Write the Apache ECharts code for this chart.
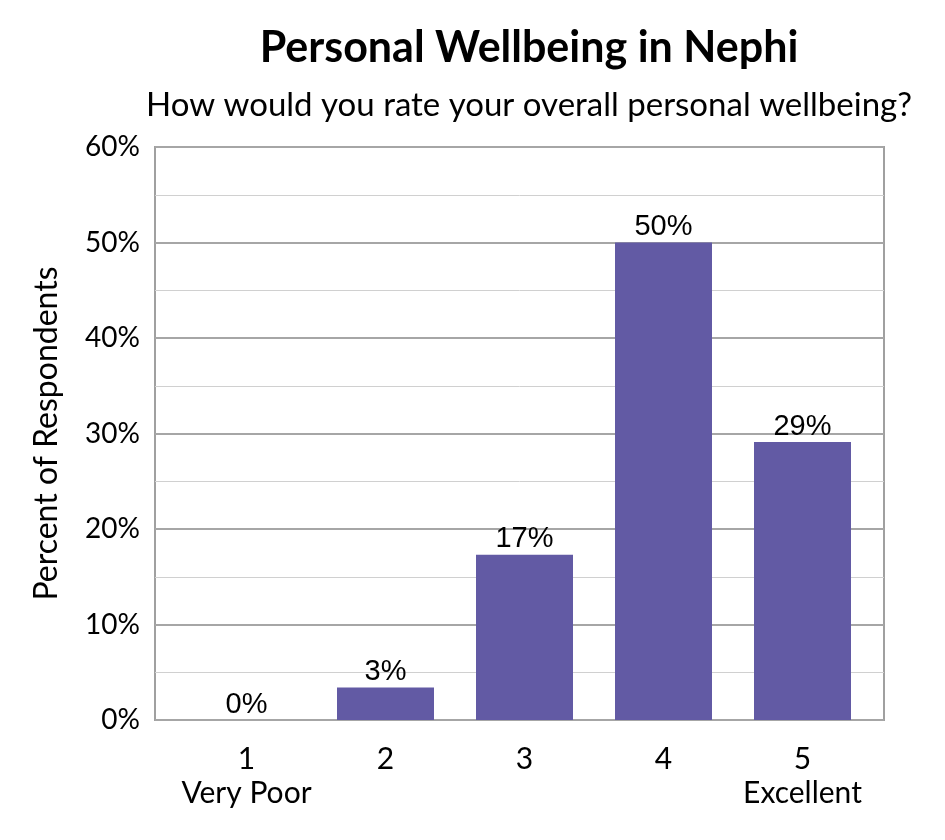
<!DOCTYPE html>
<html>
<head>
<meta charset="utf-8">
<script src="https://cdn.jsdelivr.net/npm/echarts@6/dist/echarts.min.js"></script>
<style>
  html, body { margin: 0; padding: 0; background: #fff; }
  #main { width: 945px; height: 840px; }
</style>
</head>
<body>
<div id="main"></div>
<script type="text/javascript">
  // data
  var categories = ['1\nVery Poor', '2', '3', '4', '5\nExcellent'];
  var percents   = [0, 3.4, 17.3, 50, 29.1];
  var yTicks     = [0, 10, 20, 30, 40, 50, 60];

  var labelFont = 'Lato, "Open Sans", sans-serif';

  var myChart = echarts.init(document.getElementById('main'));

  // grid 0 = the framed plot area with the gridlines,
  // grid 1 = where the bars sit (a bit narrower, like the original)
  var option = {
    backgroundColor: '#fff',
    title: [
      {
        text: 'Personal Wellbeing in Nephi',
        left: 524,
        textAlign: 'center',
        top: 22,
        textStyle: { fontFamily: labelFont, fontWeight: 'bold', fontSize: 43, color: '#000' }
      },
      {
        text: 'How would you rate your overall personal wellbeing?',
        left: 524,
        textAlign: 'center',
        top: 84,
        textStyle: { fontFamily: labelFont, fontWeight: 'normal', fontSize: 33, color: '#000' }
      }
    ],
    grid: [
      {
        left: 155, right: 61, top: 147, bottom: 120,
        show: true,
        borderColor: '#A0A0A0',
        borderWidth: 2
      },
      {
        left: 177, right: 73, top: 147, bottom: 120
      }
    ],
    xAxis: [
      { type: 'category', gridIndex: 0, data: categories, show: false },
      {
        type: 'category',
        gridIndex: 1,
        data: categories,
        axisTick: { show: false },
        axisLine: { show: false },
        axisLabel: {
          interval: 0,
          color: '#000',
          fontFamily: labelFont,
          fontSize: 30,
          lineHeight: 34,
          margin: 22
        }
      }
    ],
    yAxis: [
      {
        type: 'value',
        gridIndex: 0,
        min: yTicks[0],
        max: yTicks[yTicks.length - 1],
        interval: 10,
        name: 'Percent of Respondents',
        nameLocation: 'middle',
        nameGap: 92,
        nameTextStyle: { color: '#000', fontFamily: labelFont, fontSize: 32 },
        axisLine: { show: false },
        axisTick: { show: false },
        axisLabel: {
          color: '#000',
          fontFamily: labelFont,
          fontSize: 28,
          margin: 15,
          formatter: '{value}%'
        },
        splitLine: { lineStyle: { color: '#A6A6A6', width: 2 } },
        minorTick: { show: false, splitNumber: 2 },
        minorSplitLine: { show: true, lineStyle: { color: '#D0D0D0', width: 1 } }
      },
      {
        type: 'value',
        gridIndex: 1,
        min: yTicks[0],
        max: yTicks[yTicks.length - 1],
        interval: 10,
        show: false,
        splitLine: { show: false }
      }
    ],
    series: [
      {
        type: 'bar',
        xAxisIndex: 1,
        yAxisIndex: 1,
        data: percents,
        barWidth: 97,
        itemStyle: { color: '#625AA4' },
        label: {
          show: true,
          position: 'top',
          distance: 1,
          color: '#000',
          fontFamily: '"Liberation Sans", Arial, sans-serif',
          fontSize: 29,
          formatter: function (p) { return Math.round(p.value) + '%'; }
        }
      }
    ]
  };

  myChart.setOption(option);
</script>
</body>
</html>
